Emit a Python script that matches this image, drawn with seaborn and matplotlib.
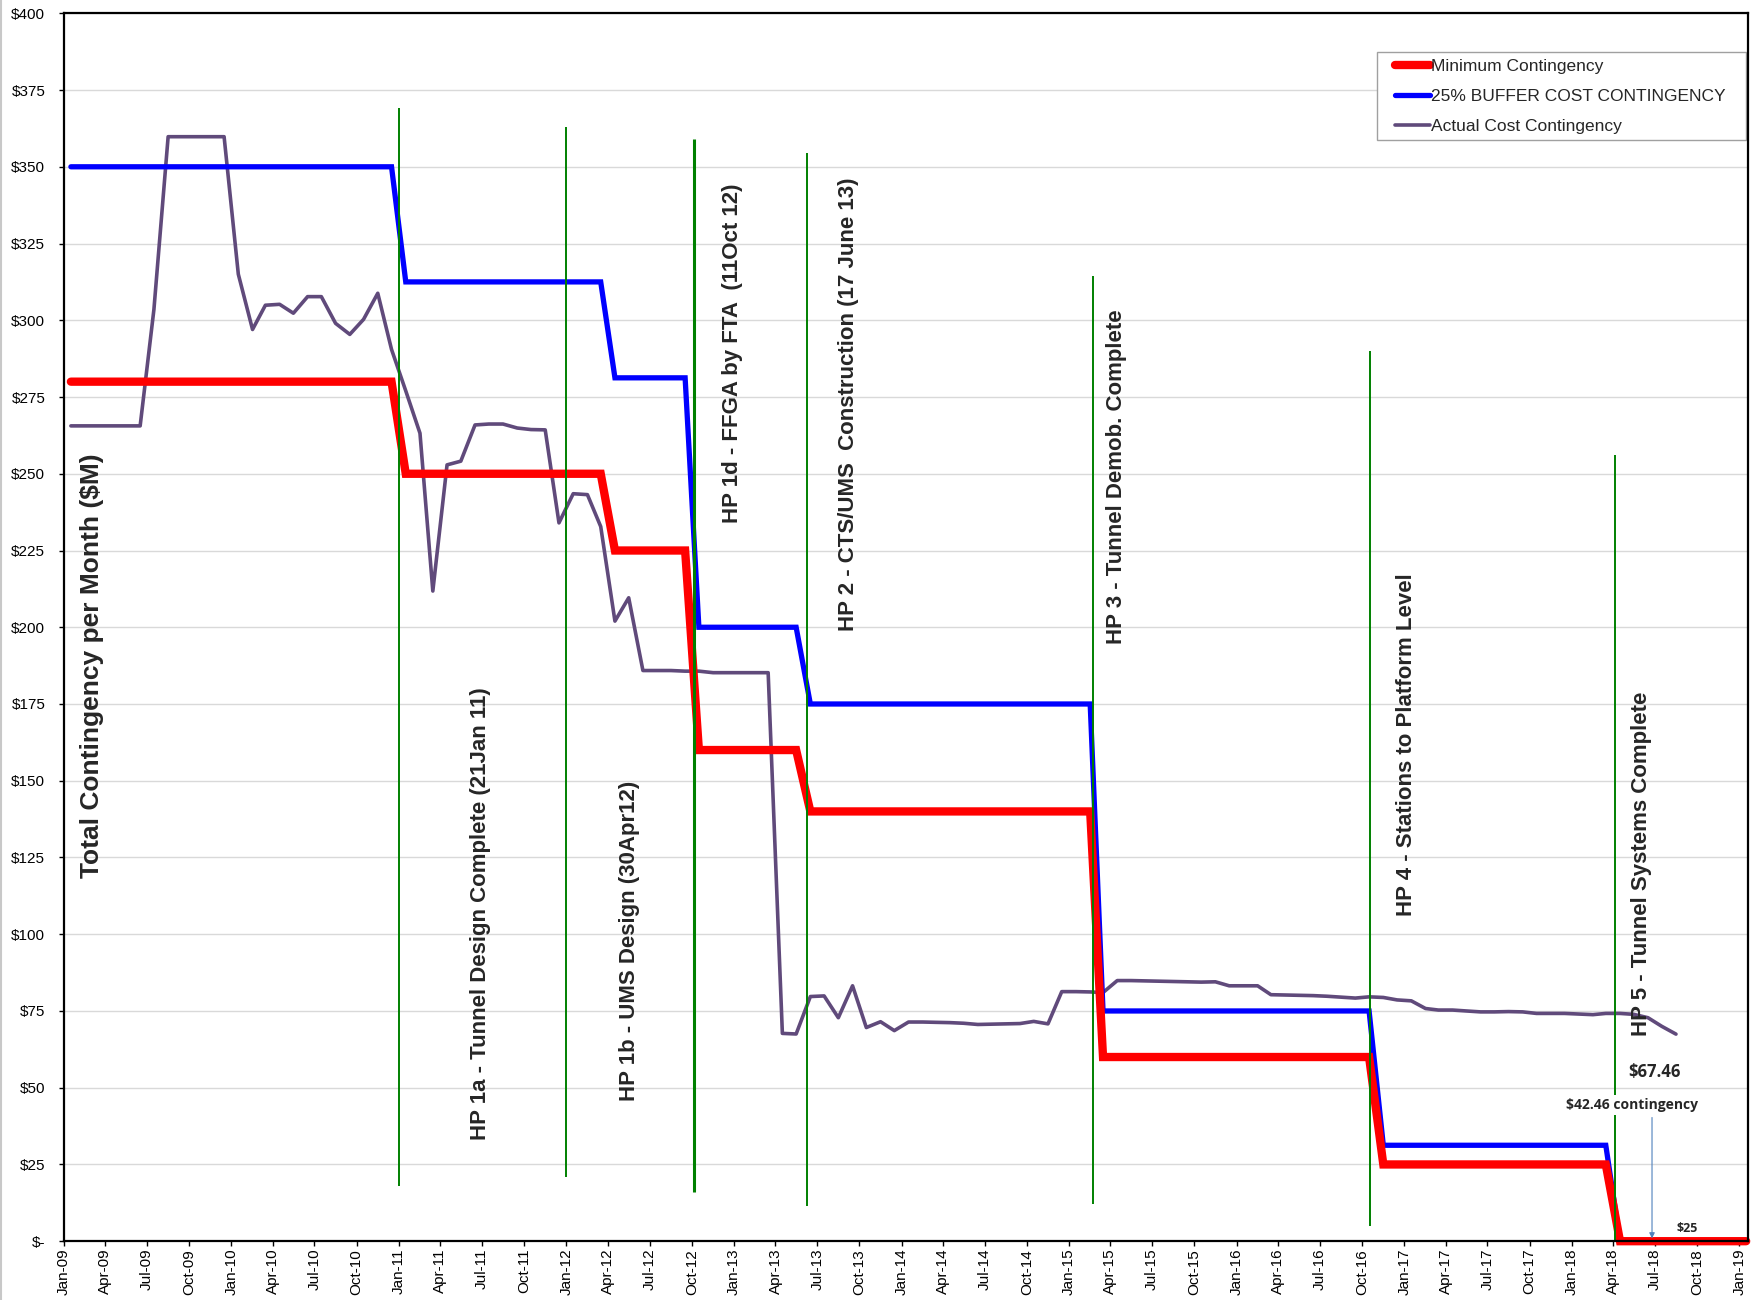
import numpy as np
import pandas as pd
import matplotlib
matplotlib.use("Agg")
import matplotlib.pyplot as plt
import matplotlib.dates as mdates
from matplotlib.ticker import FuncFormatter, MultipleLocator
from matplotlib.lines import Line2D
from matplotlib.patches import Rectangle
import seaborn as sns

# ---------------- data ----------------
step_months = ["2009-01", "2010-12", "2011-01", "2012-03", "2012-04", "2012-09",
               "2012-10", "2013-05", "2013-06", "2015-02", "2015-03", "2016-10",
               "2016-11", "2018-03", "2018-04", "2019-01"]
minimum_contingency = [280, 280, 250, 250, 225, 225, 160, 160, 140, 140,
                       60, 60, 25, 25, 0, 0]
buffer_contingency = [350, 350, 312.5, 312.5, 281.25, 281.25, 200, 200, 175, 175,
                      75, 75, 31.25, 31.25, 0, 0]

actual_start = "2009-01"
actual_contingency = [
    265.6, 265.6, 265.6, 265.6, 265.6, 265.6, 303.5, 359.8, 359.8, 359.8, 359.8, 359.8,
    315.0, 297.0, 304.9, 305.2, 302.3, 307.7, 307.7, 299.0, 295.4, 300.3, 308.8, 290.5,
    277.0, 263.2, 211.8, 252.9, 254.1, 265.9, 266.2, 266.2, 264.9, 264.4, 264.3, 234.0,
    243.5, 243.2, 232.8, 202.0, 209.6, 185.9, 185.9, 185.9, 185.7, 185.7, 185.2, 185.2,
    185.2, 185.2, 185.2, 67.7, 67.5, 79.7, 79.9, 72.8, 83.2, 69.6, 71.5, 68.6,
    71.4, 71.4, 71.3, 71.2, 71.0, 70.6, 70.7, 70.8, 70.9, 71.6, 70.8, 81.3,
    81.3, 81.2, 81.0, 84.9, 84.9, 84.8, 84.7, 84.6, 84.5, 84.4, 84.5, 83.2,
    83.2, 83.2, 80.3, 80.2, 80.1, 80.0, 79.8, 79.5, 79.2, 79.6, 79.4, 78.6,
    78.3, 75.8, 75.3, 75.3, 75.0, 74.7, 74.7, 74.8, 74.7, 74.2, 74.2, 74.2,
    74.0, 73.8, 74.2, 74.2, 73.9, 72.8, 70.0, 67.46,
]

milestone_dates = ["2011-01-02", "2012-01-01", "2012-10-06", "2013-06-09",
                   "2015-02-22", "2016-10-19", "2018-04-05"]
milestone_low = [18, 21, 16, 11.5, 12, 5, 0]
milestone_high = [369, 363, 359, 354.5, 314.5, 290, 256]
milestone_labels = [
    "HP 1a - Tunnel Design Complete (21Jan 11)",
    "HP 1b - UMS Design (30Apr12)",
    "HP 1d - FFGA by FTA  (11Oct 12)",
    "HP 2 - CTS/UMS  Construction (17 June 13)",
    "HP 3 - Tunnel Demob. Complete",
    "HP 4 - Stations to Platform Level",
    "HP 5 - Tunnel Systems Complete",
]
series_names = ["Minimum Contingency", "25% BUFFER COST CONTINGENCY",
                "Actual Cost Contingency"]

# ---------------- style ----------------
sns.set_style("white")
plt.rcParams["font.family"] = ["Liberation Sans", "DejaVu Sans"]

fig = plt.figure(figsize=(17.54, 13.0), dpi=100)
ax = fig.add_axes([0.03649, 0.04523, 0.96009, 0.94454])

mid = pd.Timedelta(days=15)
step_x = pd.to_datetime(step_months) + mid
actual_x = pd.date_range(actual_start, periods=len(actual_contingency), freq="MS") + mid

df_steps = pd.DataFrame({"date": step_x, "min": minimum_contingency,
                         "buf": buffer_contingency})
df_act = pd.DataFrame({"date": actual_x, "act": actual_contingency})

# milestone lines (drawn on top of the series)
for i, (d, lo, hi) in enumerate(zip(milestone_dates, milestone_low, milestone_high)):
    ax.vlines(pd.Timestamp(d), lo, hi, color="#008000",
              linewidth=2.2 if i == 2 else 1.4, zorder=6)

sns.lineplot(data=df_act, x="date", y="act", ax=ax, color="#604A7B",
             linewidth=2.6, zorder=3, solid_capstyle="round", legend=False)
sns.lineplot(data=df_steps, x="date", y="buf", ax=ax, color="#0000FF",
             linewidth=3.8, zorder=4, clip_on=False, solid_capstyle="round",
             solid_joinstyle="miter", legend=False)
sns.lineplot(data=df_steps, x="date", y="min", ax=ax, color="#FF0000",
             linewidth=6.0, zorder=5, clip_on=False, solid_capstyle="round",
             solid_joinstyle="miter", legend=False)

# axes
ax.set_xlim(pd.Timestamp("2009-01-01"), pd.Timestamp("2019-01-20"))
ax.set_ylim(0, 400)
ax.yaxis.set_major_locator(MultipleLocator(25))
ax.yaxis.set_major_formatter(FuncFormatter(lambda v, p: "$-" if v == 0 else f"${v:.0f}"))
ax.xaxis.set_major_locator(mdates.MonthLocator(bymonth=[1, 4, 7, 10]))
ax.xaxis.set_major_formatter(mdates.DateFormatter("%b-%y"))
plt.setp(ax.get_xticklabels(), rotation=90, ha="center", va="top")
ax.tick_params(axis="x", length=3.5, width=1, pad=2, labelsize=11, colors="#000000",
               direction="out", bottom=True)
ax.tick_params(axis="y", length=3.5, width=1, pad=10, labelsize=11, colors="#000000",
               direction="out", left=True)
ax.set_xlabel("")
ax.set_ylabel("")
ax.grid(axis="y", color="#D9D9D9", linewidth=1.0)
ax.grid(axis="x", visible=False)
ax.set_axisbelow(True)
for s in ax.spines.values():
    s.set_visible(True)
    s.set_color("#000000")
    s.set_linewidth(1.6)
    s.set_zorder(9)

# y label inside plot
ax.text(0.0164, 0.4688, "Total Contingency per Month ($M)", transform=ax.transAxes,
        rotation=90, ha="center", va="center", fontsize=19, fontweight="bold")

# milestone labels
label_pos = [(0.2476, 0.2665), (0.3360, 0.2447), (0.3971, 0.7229), (0.4656, 0.6820),
             (0.6249, 0.6224), (0.7975, 0.4041), (0.9370, 0.3075)]
for (tx, ty), lab in zip(label_pos, milestone_labels):
    ax.text(tx, ty, lab, transform=ax.transAxes, rotation=90, ha="center",
            va="center", fontsize=16, fontweight="bold", zorder=7)

# annotations
ann_font = ["Open Sans", "DejaVu Sans"]
ax.text(0.9445, 0.1381, "$67.46", transform=ax.transAxes, ha="center", va="center",
        fontsize=12, fontweight="bold", family=ann_font, zorder=8)
ax.annotate("", xy=(0.943, 0.0), xytext=(0.943, 0.103), xycoords="axes fraction",
            textcoords="axes fraction",
            arrowprops=dict(arrowstyle="-|>", color="#4F81BD", lw=0.8,
                            mutation_scale=8), zorder=7)
ax.text(0.9311, 0.1108, "$42.46 contingency", transform=ax.transAxes, ha="center",
        va="center", fontsize=10, fontweight="bold", family=ann_font, zorder=8,
        bbox=dict(facecolor="white", edgecolor="none", pad=2))
ax.text(0.9638, 0.0106, "$25", transform=ax.transAxes, ha="center", va="center",
        fontsize=9, fontweight="bold", family=ann_font, zorder=8)

# legend: box drawn separately to match the reference's wide side padding
ax.add_patch(Rectangle((0.7797, 0.8968), 0.2189, 0.0719, transform=ax.transAxes,
                       facecolor="white", edgecolor="#A0A0A0", linewidth=1.0,
                       zorder=8))
handles = [Line2D([], [], color="#FF0000", lw=6.0, solid_capstyle="round"),
           Line2D([], [], color="#0000FF", lw=3.8, solid_capstyle="round"),
           Line2D([], [], color="#604A7B", lw=2.6, solid_capstyle="round")]
leg = ax.legend(handles, series_names, loc="upper left",
                bbox_to_anchor=(0.7905, 0.9632), borderaxespad=0, fontsize=12.5,
                frameon=False, handlelength=2.0, handletextpad=0.05,
                labelspacing=0.86, borderpad=0)
leg.set_zorder(9)

# faint outer chart border on the left
fig.add_artist(Line2D([0.0008, 0.0008], [0, 1], transform=fig.transFigure,
                      color="#C8C8C8", lw=1.5))

fig.savefig("out.png", dpi=100, facecolor="white")
